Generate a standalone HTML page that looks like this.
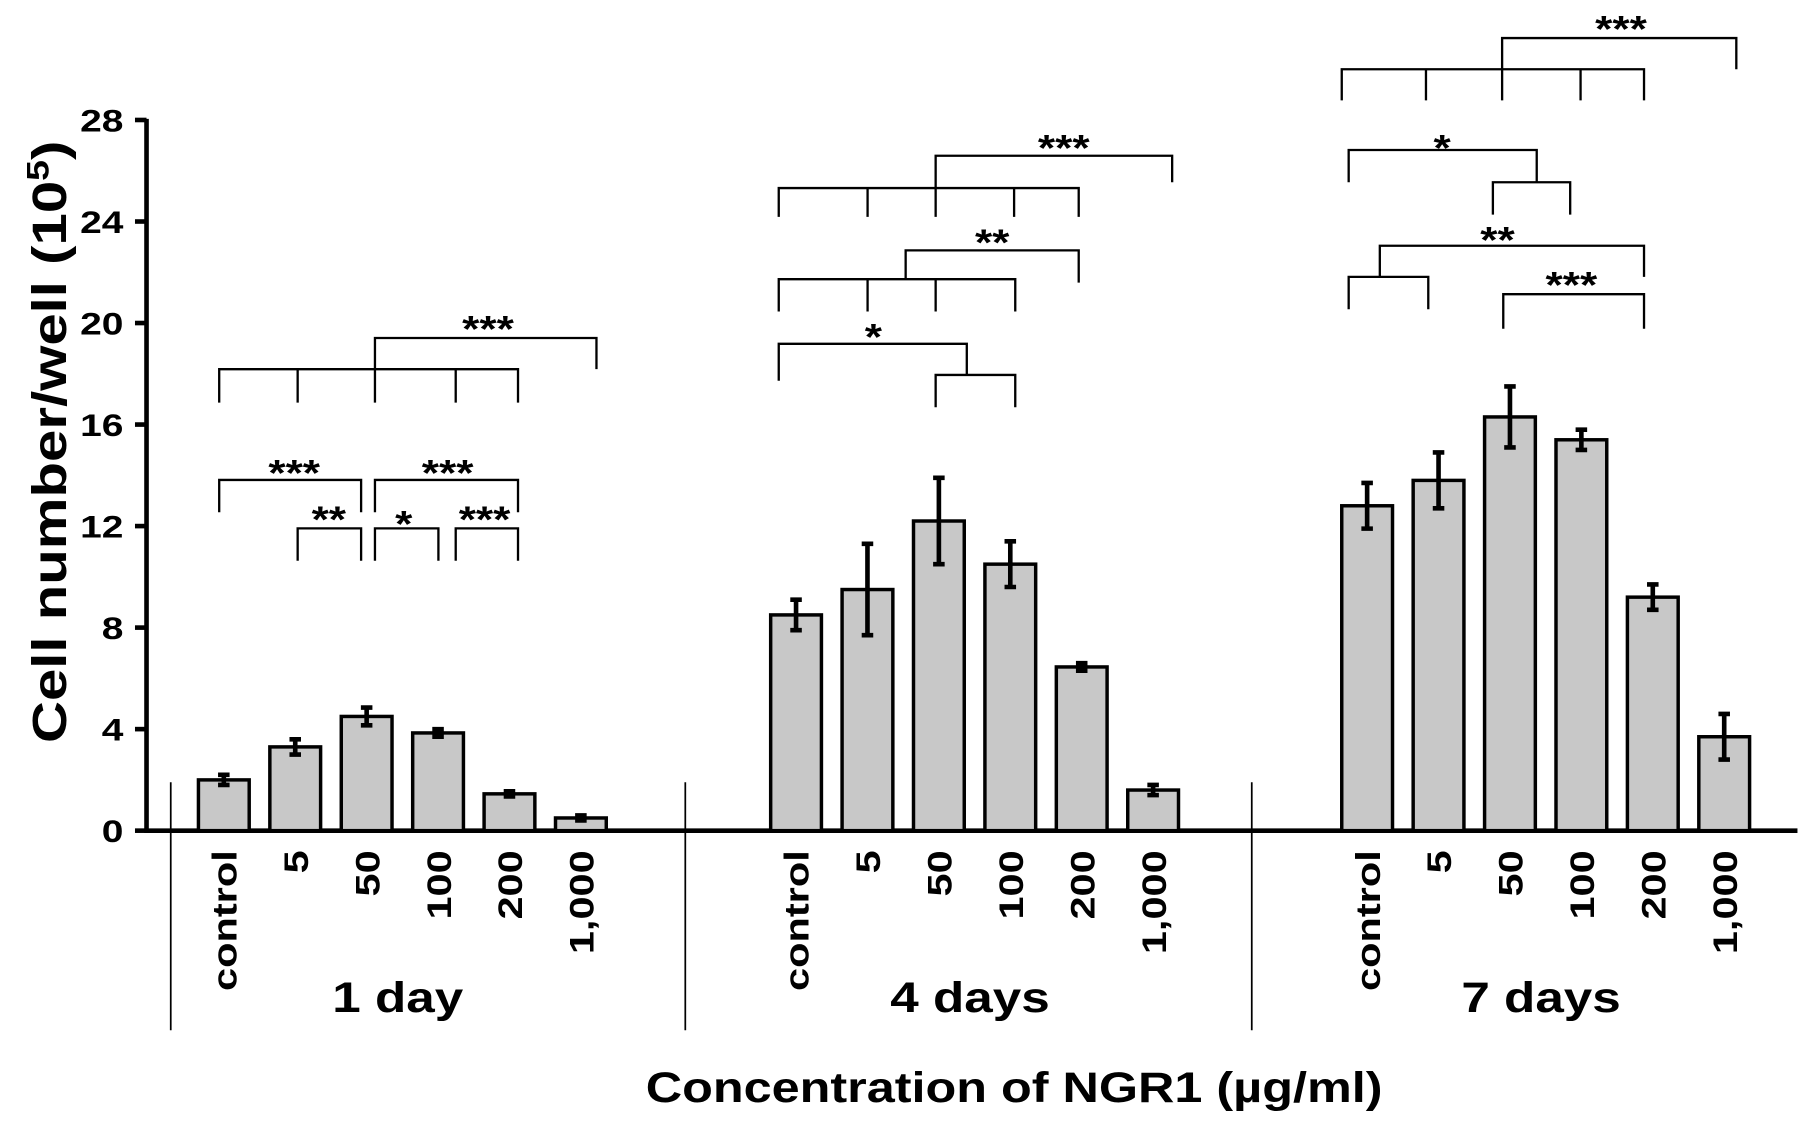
<!DOCTYPE html>
<html><head><meta charset="utf-8"><style>
html,body{margin:0;padding:0;background:#fff;}
svg{display:block;}
text{font-family:"Liberation Sans",Arial,sans-serif;font-weight:bold;fill:#000;}
</style></head><body>
<svg id="chart" width="1809" height="1126" viewBox="0 0 1568 976" preserveAspectRatio="none">
<g id="brackets" fill="none" stroke="#000" stroke-width="2"></g>
</svg>
<script>
const categories=["control","5","50","100","200","1,000"];
const groups=["1 day","4 days","7 days"];
const values=[[2.0,3.3,4.5,3.85,1.45,0.5],[8.5,9.5,12.2,10.5,6.45,1.6],[12.8,13.8,16.3,15.4,9.2,3.7]];
const errors=[[0.2,0.3,0.35,0.15,0.1,0.1],[0.6,1.8,1.7,0.9,0.15,0.2],[0.9,1.1,1.2,0.4,0.5,0.9]];
const yTicks=[0,4,8,12,16,20,24,28];

const NS="http://www.w3.org/2000/svg";
const svg=document.getElementById('chart');
function el(t,a,p){const e=document.createElementNS(NS,t);for(const k in a)e.setAttribute(k,a[k]);(p||svg).appendChild(e);return e;}
const y0=720,pxPerUnit=22;
function y(v){return y0-v*pxPerUnit;}
const groupStart=[194,690,1185],barStep=61.9,barW=44;
function x(g,i){return groupStart[g]+i*barStep;}

let a=el('line',{x1:127,y1:y(28)-1,x2:127,y2:y0,stroke:'#000','stroke-width':4});


yTicks.forEach(t=>{
  const l=el('line',{x1:117,x2:127,y1:y(t),y2:y(t),stroke:'#000','stroke-width':4});
  
  
  const tx=el('text',{transform:`translate(107,${y(t)+10}) scale(1.25,1)`,'text-anchor':'end','font-size':27});
  tx.textContent=t;
  
  
});
let xa=el('line',{x1:125,y1:y0,x2:1558,y2:y0,stroke:'#000','stroke-width':4});


[148,594,1085].forEach(sx=>{
  const l=el('line',{x1:sx,x2:sx,y1:678,y2:893,stroke:'#000','stroke-width':1.5});
  
  
});
values.forEach((gv,g)=>{
  gv.forEach((v,i)=>{
    const cx=x(g,i);
    const r=el('rect',{x:cx-barW/2,y:y(v),width:barW,height:y0-y(v),fill:'#c8c8c8',stroke:'#000','stroke-width':3});
    
    
    const e=errors[g][i];
    const eb=el('path',{d:`M${cx},${y(v+e)}V${y(v-e)}M${cx-5},${y(v+e)}H${cx+5}M${cx-5},${y(v-e)}H${cx+5}`,stroke:'#000','stroke-width':4,fill:'none'});
    
    
    const t=el('text',{transform:`translate(${cx+11},737) rotate(-90) scale(1.2,1)`,'text-anchor':'end','font-size':30});
    t.textContent=categories[i];
    
    
  });
  const gl=el('text',{transform:`translate(${x(g,2.5)-4},877) scale(1.2,1)`,'text-anchor':'middle','font-size':37});
  gl.textContent=groups[g];
  
  
});
let xt=el('text',{transform:'translate(879,955) scale(1.18,1)','text-anchor':'middle','font-size':37});
xt.textContent='Concentration of NGR1 (µg/ml)';


let yt=el('text',{transform:'translate(57,383) rotate(-90) scale(1.2,1)','text-anchor':'middle','font-size':42});
yt.innerHTML='Cell number/well (10<tspan dy="-15" font-size="27">5</tspan><tspan dy="15">)</tspan>';



const br=document.getElementById('brackets');
const paths=[
"M190,349V320H449V349M258,320V349M325,349V293H517V320M395,320V349",
"M190,444V416H313V444","M325,444V416H449V444",
"M258,486V458H313V486","M325,486V458H380V486","M395,486V458H449V486",
"M675,188V163H935V188M752,163V188M811,188V135H1016V158M879,163V188",
"M675,270V242H880V270M752,242V270M811,242V270M785,242V217H935V245",
"M675,330V298H838V325M811,353V325H880V353",
"M1163,87V60H1425V87M1236,60V87M1302,87V33H1505V60M1370,60V87",
"M1169,158V130H1332V158M1294,186V158H1361V186",
"M1169,268V240H1238V268M1196,240V213H1425V240",
"M1303,285V255H1425V285"];
paths.forEach(d=>{
  const p=el('path',{d:d},br);
  
  
});
const stars=[["***",423,296],["***",255,421],["***",388,421],["**",285,461],["*",350,465],["***",420,461],
["***",922,139],["**",860,221],["*",757,303],["***",1405,36],["*",1250,139],["**",1298,219],["***",1362,258]];
stars.forEach(s=>{
  const t=el('text',{transform:`translate(${s[1]},${s[2]}) scale(1.2,1)`,'text-anchor':'middle','font-size':32});
  t.textContent=s[0];
  
  
});
</script>
</body></html>
